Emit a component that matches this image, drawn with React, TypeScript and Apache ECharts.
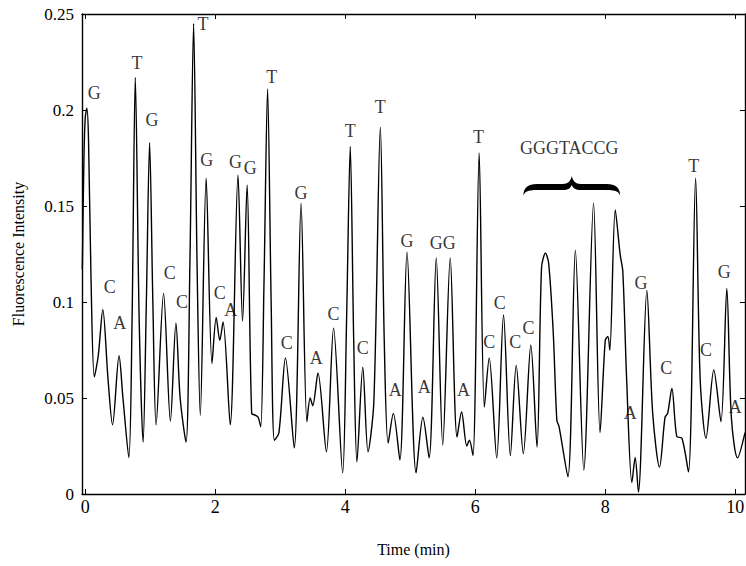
import React, { useEffect, useRef } from "react";
import * as echarts from "echarts";

// Trace (time in min, fluorescence intensity)
const timeMin = [
  -0.045, -0.02, 0.0, 0.025, 0.05, 0.09, 0.14, 0.2, 0.27, 0.35, 0.42, 0.52, 0.58, 0.67, 0.72, 0.77, 0.83, 0.89,
  0.94, 0.99, 1.04, 1.09, 1.205, 1.31, 1.395, 1.46, 1.55, 1.61, 1.667, 1.72, 1.77, 1.86, 1.95, 2.015, 2.07, 2.12,
  2.23, 2.35, 2.42, 2.49, 2.56, 2.62, 2.66, 2.7, 2.75, 2.805, 2.86, 2.91, 2.98, 3.08, 3.215, 3.32, 3.41, 3.46,
  3.5, 3.58, 3.71, 3.82, 3.96, 4.02, 4.077, 4.13, 4.18, 4.27, 4.35, 4.44, 4.54, 4.6, 4.66, 4.74, 4.84, 4.95,
  5.09, 5.195, 5.29, 5.4, 5.5, 5.615, 5.72, 5.79, 5.87, 5.91, 5.965, 6.06, 6.14, 6.215, 6.33, 6.435, 6.54, 6.63,
  6.74, 6.855, 6.95, 7.02, 7.08, 7.13, 7.2, 7.255, 7.29, 7.425, 7.54, 7.67, 7.82, 7.92, 8.0, 8.04, 8.07, 8.154,
  8.23, 8.27, 8.33, 8.41, 8.46, 8.51, 8.64, 8.73, 8.835, 8.92, 8.96, 9.025, 9.1, 9.18, 9.28, 9.39, 9.46, 9.55,
  9.67, 9.78, 9.87, 9.94, 10.035, 10.15,
];
const intensity = [
  0.117, 0.175, 0.196, 0.201, 0.185, 0.11, 0.061, 0.072, 0.096, 0.06, 0.036, 0.072, 0.05, 0.019, 0.09, 0.217,
  0.09, 0.027, 0.1, 0.183, 0.1, 0.036, 0.1045, 0.038, 0.089, 0.05, 0.027, 0.12, 0.245, 0.12, 0.041, 0.1645,
  0.068, 0.092, 0.08, 0.0896, 0.036, 0.166, 0.09, 0.161, 0.042, 0.041, 0.04, 0.035, 0.11, 0.211, 0.1, 0.028,
  0.032, 0.0708, 0.024, 0.1515, 0.0377, 0.05, 0.046, 0.063, 0.022, 0.0864, 0.011, 0.09, 0.181, 0.08, 0.0167,
  0.066, 0.022, 0.048, 0.191, 0.08, 0.0265, 0.042, 0.0177, 0.126, 0.011, 0.04, 0.0188, 0.123, 0.0255, 0.123,
  0.0297, 0.0427, 0.025, 0.028, 0.02, 0.1776, 0.0453, 0.0708, 0.0188, 0.0932, 0.02, 0.067, 0.021, 0.0776,
  0.0245, 0.118, 0.1255, 0.12, 0.084, 0.0385, 0.035, 0.009, 0.127, 0.0125, 0.1515, 0.032, 0.08, 0.082, 0.075,
  0.148, 0.1245, 0.116, 0.059, 0.006, 0.019, 0.001, 0.106, 0.042, 0.014, 0.04, 0.042, 0.055, 0.03, 0.029,
  0.0115, 0.1645, 0.06, 0.029, 0.0646, 0.0377, 0.107, 0.04, 0.0188, 0.032,
];

// Base-call annotations
const baseLetters = [
  "G", "C", "A", "T", "G", "C", "C", "T", "G", "C", "A", "G", "G", "T", "C", "G", "A", "C", "T", "C", "T", "A",
  "G", "A", "GG", "A", "T", "C", "C", "C", "C", "A", "G", "C", "T", "C", "G", "A", "GGGTACCG",
];
const baseTimes = [
  0.14, 0.375, 0.53, 0.795, 1.025, 1.3, 1.49, 1.81, 1.87, 2.07, 2.24, 2.31, 2.54, 2.87, 3.1, 3.32, 3.555, 3.82,
  4.077, 4.27, 4.54, 4.77, 4.95, 5.215, 5.5, 5.82, 6.05, 6.215, 6.375, 6.615, 6.82, 8.385, 8.55, 8.94, 9.36,
  9.55, 9.83, 10.0, 7.446,
];
const baseHeights = [
  0.209, 0.108, 0.089, 0.2245, 0.195, 0.115, 0.1, 0.245, 0.174, 0.1045, 0.096, 0.173, 0.17, 0.217, 0.0786,
  0.157, 0.0708, 0.094, 0.189, 0.076, 0.2016, 0.054, 0.132, 0.0557, 0.1307, 0.054, 0.186, 0.079, 0.0995, 0.079,
  0.0864, 0.042, 0.11, 0.0656, 0.171, 0.075, 0.1157, 0.0453, 0.18,
];

const xTicks = [0, 2, 4, 6, 8, 10];
const braceSpan = [6.74, 8.23];
const braceTop = 0.1656;

const BRACE_D =
  "M0,20 C0,12 4,8 14,8 L40,8 C45,8 48,5 49,0 C50,5 53,8 58,8 L84,8 C94,8 98,12 98,20 " +
  "C97,16 94,14 84,14 L58,14 C53,14 50,12 49,9 C48,12 45,14 40,14 L14,14 C4,14 1,16 0,20 Z";

let braceRegistered = false;

export default function App() {
  const ref = useRef<HTMLDivElement>(null);
  useEffect(() => {
    if (!ref.current) return;
    if (!braceRegistered) {
      echarts.graphic.registerShape("brace", echarts.graphic.extendPath(BRACE_D, {}));
      braceRegistered = true;
    }
    const chart = echarts.init(ref.current, null, { renderer: "svg" });
    const font = "Liberation Serif";
    const trace = timeMin.map((t, i) => [t, intensity[i]]);
    const labels = baseLetters.map((n, i) => ({ name: n, value: [baseTimes[i], baseHeights[i]] }));
    const axisLine = { show: true, onZero: false, lineStyle: { color: "#000", width: 1.4 } };
    chart.setOption({
      animation: false,
      backgroundColor: "#fff",
      grid: { left: 82, right: 1, top: 14, bottom: 72, outerBoundsMode: "none" },
      xAxis: [
        {
          type: "value",
          min: -0.05,
          max: 10.15,
          axisLine,
          axisTick: { show: true, inside: true, length: 5, customValues: xTicks, lineStyle: { color: "#000" } },
          axisLabel: {
            customValues: xTicks,
            color: "#000",
            fontFamily: font,
            fontSize: 18,
            margin: 4,
            hideOverlap: false,
          },
          splitLine: { show: false },
          name: "Time (min)",
          nameLocation: "middle",
          nameGap: 47,
          nameTextStyle: { color: "#000", fontFamily: font, fontSize: 16 },
        },
        {
          type: "value",
          position: "top",
          min: -0.05,
          max: 10.15,
          axisLine,
          axisTick: { show: true, inside: true, length: 5, customValues: xTicks, lineStyle: { color: "#000" } },
          axisLabel: { show: false },
          splitLine: { show: false },
        },
      ],
      yAxis: [
        {
          type: "value",
          min: 0,
          max: 0.25,
          interval: 0.05,
          axisLine,
          axisTick: { show: true, inside: true, length: 5, lineStyle: { color: "#000" } },
          axisLabel: { color: "#000", fontFamily: font, fontSize: 17, margin: 8 },
          splitLine: { show: false },
          name: "Fluorescence Intensity",
          nameLocation: "middle",
          nameGap: 56,
          nameTextStyle: { color: "#000", fontFamily: font, fontSize: 16 },
        },
        {
          type: "value",
          position: "right",
          min: 0,
          max: 0.25,
          interval: 0.05,
          axisLine,
          axisTick: { show: true, inside: true, length: 5, lineStyle: { color: "#000" } },
          axisLabel: { show: false },
          splitLine: { show: false },
        },
      ],
      series: [
        {
          type: "line",
          data: trace,
          smooth: 0.3,
          showSymbol: false,
          symbol: "none",
          lineStyle: { color: "#000", width: 1.4 },
          clip: true,
        },
        {
          type: "scatter",
          data: labels,
          symbolSize: 1,
          itemStyle: { color: "rgba(0,0,0,0)" },
          label: {
            show: true,
            position: "inside",
            formatter: (p: any) => p.name,
            color: "#000",
            fontFamily: font,
            fontSize: 18,
          },
          labelLayout: { hideOverlap: false },
        },
      ],
    });
    const p0 = chart.convertToPixel({ xAxisIndex: 0, yAxisIndex: 0 }, [braceSpan[0], braceTop]) as number[];
    const p1 = chart.convertToPixel({ xAxisIndex: 0, yAxisIndex: 0 }, [braceSpan[1], braceTop]) as number[];
    chart.setOption({
      graphic: [
        {
          type: "brace",
          x: p0[0],
          y: p0[1],
          scaleX: (p1[0] - p0[0]) / 98,
          scaleY: 1,
          style: { fill: "#000" },
        },
      ],
    });
    return () => chart.dispose();
  }, []);
  return (
    <div
      ref={ref}
      style={{ position: "absolute", left: 0, top: 0, width: 746, height: 566, overflow: "hidden" }}
    />
  );
}
